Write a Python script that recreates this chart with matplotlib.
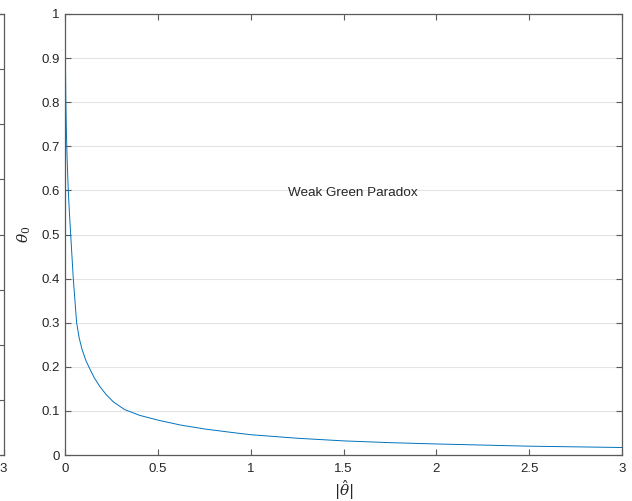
import matplotlib
matplotlib.use("Agg")
import matplotlib.pyplot as plt

plt.rcParams['font.family'] = ['Liberation Sans', 'DejaVu Sans']
plt.rcParams['mathtext.fontset'] = 'dejavuserif'

# Data
theta_hat = [0.0, 0.001, 0.003, 0.006, 0.010, 0.016, 0.022, 0.029, 0.036, 0.043,
             0.052, 0.061, 0.075, 0.09, 0.11, 0.129, 0.155, 0.185, 0.22, 0.26,
             0.32, 0.40, 0.5, 0.62, 0.75, 0.9, 1.0, 1.25, 1.5, 1.75, 2.0, 2.5, 3.0]
theta0 = [0.93, 0.88, 0.80, 0.73, 0.67, 0.60, 0.55, 0.50, 0.45, 0.40,
          0.35, 0.30, 0.265, 0.24, 0.215, 0.198, 0.176, 0.156, 0.137, 0.120,
          0.103, 0.090, 0.079, 0.068, 0.059, 0.051, 0.046, 0.038, 0.032, 0.028, 0.025, 0.020, 0.017]
xticks = [0, 0.5, 1, 1.5, 2, 2.5, 3]
xticklabels = ['0', '0.5', '1', '1.5', '2', '2.5', '3']
yticks = [0, 0.1, 0.2, 0.3, 0.4, 0.5, 0.6, 0.7, 0.8, 0.9, 1]
yticklabels = ['0', '0.1', '0.2', '0.3', '0.4', '0.5', '0.6', '0.7', '0.8', '0.9', '1']
annotation = 'Weak Green Paradox'

W, H = 632, 501
fig = plt.figure(figsize=(W / 100, H / 100), dpi=100)

axis_color = '#5a5a5a'
text_color = '#262626'

def style(ax):
    for s in ax.spines.values():
        s.set_color(axis_color)
        s.set_linewidth(0.9)
    ax.tick_params(direction='in', length=4, width=0.8, color=axis_color,
                   labelcolor=text_color, labelsize=9.5, top=True, right=True)

# partial neighbour panel at far left (only its right edge visible)
axl = fig.add_axes([-0.5, 0.0918, 0.5 + 3.5 / W, 0.972 - 0.0918])
axl.set_xlim(0, 3)
axl.set_ylim(0, 8)
axl.set_xticks([3])
axl.set_xticklabels(['3'])
axl.set_yticks(range(9))
axl.set_yticklabels([])
style(axl)
axl.tick_params(left=False, top=False)
axl.tick_params(axis='x', pad=6)

left = 65.3 / W
right = 622 / W
bottom = (H - 455) / H
top = (H - 14) / H
ax = fig.add_axes([left, bottom, right - left, top - bottom])
ax.plot(theta_hat, theta0, color='#0072BD', lw=0.7)
ax.set_xlim(0, 3)
ax.set_ylim(0, 1)
ax.set_xticks(xticks)
ax.set_xticklabels(xticklabels)
ax.set_yticks(yticks)
ax.set_yticklabels(yticklabels)
ax.yaxis.grid(True, color='#e3e3e3', lw=0.8)
ax.set_axisbelow(True)
style(ax)
ax.tick_params(axis='x', pad=6)
ax.tick_params(axis='y', pad=4)
ax.set_xlabel(r'$|\hat{\theta}|$', fontsize=11, color=text_color, labelpad=2)
ax.set_ylabel(r'$\theta_0$', fontsize=11, color=text_color, labelpad=6)
ax.text(1.2, 0.595, annotation, fontsize=9.7, color=text_color, va='center', ha='left')

fig.savefig('out.png', dpi=100)
